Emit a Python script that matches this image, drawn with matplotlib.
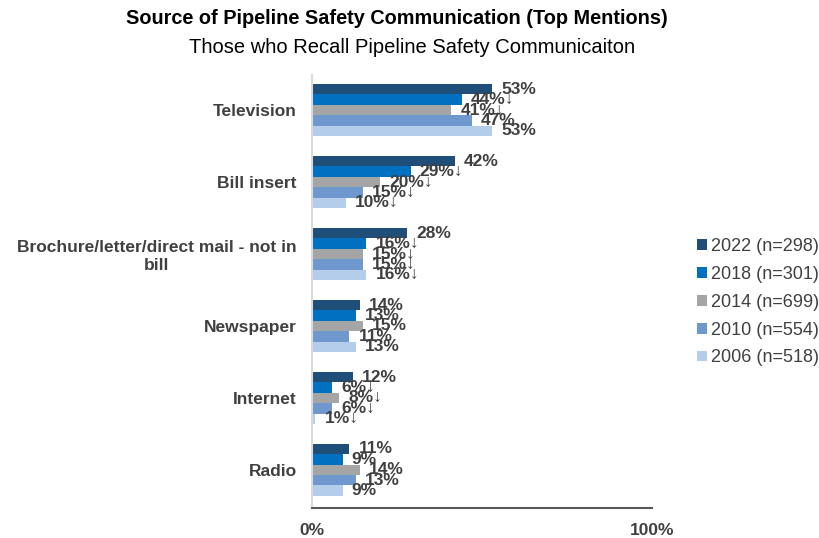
import numpy as np
import matplotlib.pyplot as plt

plt.rcParams['font.family'] = ['Liberation Sans', 'DejaVu Sans']

categories = ['Television', 'Bill insert', 'Brochure/letter/direct mail - not in\nbill',
              'Newspaper', 'Internet', 'Radio']
series = ['2022 (n=298)', '2018 (n=301)', '2014 (n=699)', '2010 (n=554)', '2006 (n=518)']
values = [
    [53, 42, 28, 14, 12, 11],
    [44, 29, 16, 13, 6, 9],
    [41, 20, 15, 15, 8, 14],
    [47, 15, 15, 11, 6, 13],
    [53, 10, 16, 13, 1, 9],
]
# significantly lower than 2022
sig_down = [
    [False, False, False, False, False, False],
    [True, True, True, False, True, False],
    [True, True, True, False, True, False],
    [False, True, True, False, True, False],
    [False, True, True, False, True, False],
]
colors = ['#1F4E79', '#0070C0', '#A5A5A5', '#6F98CE', '#B4CDEB']
label_color = '#404040'

fig = plt.figure(figsize=(8.2, 5.38), dpi=100)
ax = fig.add_axes([0.3805, 0.0558, 0.4146, 0.8052])

y = np.arange(len(categories))
h = 0.145
for i, (name, vals) in enumerate(zip(series, values)):
    pos = y + (i - 2) * h
    ax.barh(pos, vals, height=h, color=colors[i], label=name)
    for p, v, s in zip(pos, vals, sig_down[i]):
        txt = f'{v}%' + ('↓' if s else '')
        ax.annotate(txt, (v, p), xytext=(6.5, 0), textcoords='offset points',
                    ha='left', va='center', fontsize=12.5, fontweight='bold',
                    color=label_color)

ax.set_xlim(0, 100)
ax.set_ylim(5.53, -0.49)
ax.set_yticks(y)
ax.set_yticklabels(categories, fontsize=12.5, fontweight='bold', color=label_color,
                   multialignment='center')
ax.set_xticks([0, 100])
ax.set_xticklabels(['0%', '100%'], fontsize=12.5, fontweight='bold', color=label_color)
ax.tick_params(axis='y', length=0, pad=11)
ax.tick_params(axis='x', length=0, pad=11)
for side in ['top', 'right']:
    ax.spines[side].set_visible(False)
ax.spines['left'].set_color('#D9D9D9')
ax.spines['left'].set_linewidth(1.5)
ax.spines['bottom'].set_color('#595959')
ax.spines['bottom'].set_linewidth(1.5)

leg = ax.legend(loc='center left', bbox_to_anchor=(1.11, 0.475), frameon=False,
                fontsize=13, handlelength=0.55, handleheight=0.55, handletextpad=0.25,
                labelspacing=0.6, labelcolor=label_color, borderaxespad=0)

fig.text(0.484, 0.966, 'Source of Pipeline Safety Communication (Top Mentions)',
         ha='center', va='center', fontsize=14.3, fontweight='bold', color='black')
fig.text(0.503, 0.912, 'Those who Recall Pipeline Safety Communicaiton',
         ha='center', va='center', fontsize=14.5, color='black')

fig.savefig('out.png', dpi=100)
